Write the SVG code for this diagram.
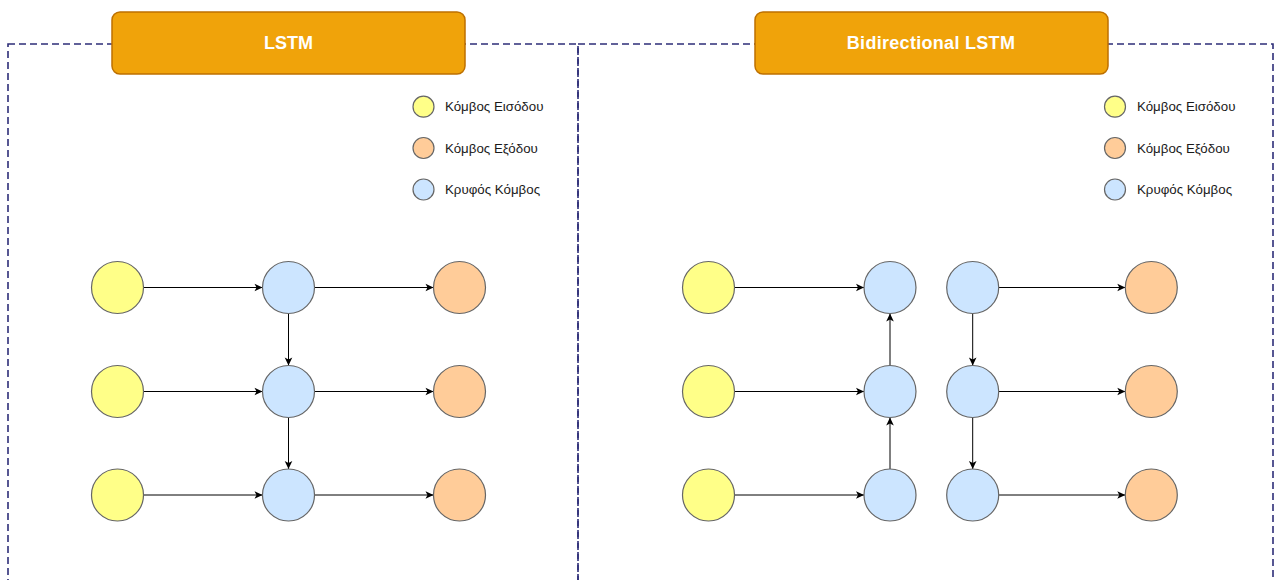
<svg xmlns="http://www.w3.org/2000/svg" width="1274" height="580" viewBox="0 0 1274 580">
<style>
.frame{fill:none;stroke:#2E2E78;stroke-width:1.6;stroke-dasharray:7 4}
.title{fill:#F0A30A;stroke:#BD7000;stroke-width:1.5}
.ttxt{font-family:"Liberation Sans",Arial,sans-serif;font-size:18px;font-weight:bold;fill:#FFFFFF;text-anchor:middle}
.ltxt{font-family:"Liberation Sans",Arial,sans-serif;font-size:13.3px;fill:#1A1A1A}
.in{fill:#FFFF88;stroke:#666666;stroke-width:1.2}
.out{fill:#FFCC99;stroke:#666666;stroke-width:1.2}
.hid{fill:#CCE5FF;stroke:#666666;stroke-width:1.2}
.edge{fill:none;stroke:#000000;stroke-width:1}
</style>
<defs>
<marker id="arr" markerUnits="userSpaceOnUse" markerWidth="10" markerHeight="10" viewBox="0 0 10 10" refX="9" refY="5" orient="auto">
<path d="M1,1.2 L9,5 L1,8.8 L3,5 Z" fill="#000000"/>
</marker>
</defs>

<g id="frames">
<rect class="frame" x="8" y="44" width="570" height="570"/>
<rect class="frame" x="578" y="44" width="695" height="570"/>
</g>

<g id="title-lstm">
<rect class="title" x="112" y="12" width="353" height="62" rx="8"/>
<text class="ttxt" x="288.5" y="48.5">LSTM</text>
</g>
<g id="title-bilstm">
<rect class="title" x="755" y="12" width="353" height="62" rx="8"/>
<text class="ttxt" x="931" y="48.5" style="letter-spacing:0.3px">Bidirectional LSTM</text>
</g>

<g id="legend-left">
<circle class="in" cx="423.5" cy="106.7" r="10.5"/>
<text class="ltxt" x="445" y="111">Κόμβος Εισόδου</text>
<circle class="out" cx="423.5" cy="148" r="10.5"/>
<text class="ltxt" x="445" y="152.5">Κόμβος Εξόδου</text>
<circle class="hid" cx="423.5" cy="189.5" r="10.5"/>
<text class="ltxt" x="445" y="194">Κρυφός Κόμβος</text>
</g>
<g id="legend-right">
<circle class="in" cx="1115" cy="106.7" r="10.5"/>
<text class="ltxt" x="1137" y="111">Κόμβος Εισόδου</text>
<circle class="out" cx="1115" cy="148" r="10.5"/>
<text class="ltxt" x="1137" y="152.5">Κόμβος Εξόδου</text>
<circle class="hid" cx="1115" cy="189.5" r="10.5"/>
<text class="ltxt" x="1137" y="194">Κρυφός Κόμβος</text>
</g>

<g id="connectors">
<line class="edge" x1="143.5" y1="287.5" x2="262.5" y2="287.5" marker-end="url(#arr)"/>
<line class="edge" x1="143.5" y1="391.5" x2="262.5" y2="391.5" marker-end="url(#arr)"/>
<line class="edge" x1="143.5" y1="495" x2="262.5" y2="495" marker-end="url(#arr)"/>
<line class="edge" x1="314.5" y1="287.5" x2="433.5" y2="287.5" marker-end="url(#arr)"/>
<line class="edge" x1="314.5" y1="391.5" x2="433.5" y2="391.5" marker-end="url(#arr)"/>
<line class="edge" x1="314.5" y1="495" x2="433.5" y2="495" marker-end="url(#arr)"/>
<line class="edge" x1="288.5" y1="313.5" x2="288.5" y2="365.5" marker-end="url(#arr)"/>
<line class="edge" x1="288.5" y1="417.5" x2="288.5" y2="469" marker-end="url(#arr)"/>

<line class="edge" x1="734.5" y1="287.5" x2="864" y2="287.5" marker-end="url(#arr)"/>
<line class="edge" x1="734.5" y1="391.5" x2="864" y2="391.5" marker-end="url(#arr)"/>
<line class="edge" x1="734.5" y1="495" x2="864" y2="495" marker-end="url(#arr)"/>
<line class="edge" x1="890" y1="469" x2="890" y2="417.5" marker-end="url(#arr)"/>
<line class="edge" x1="890" y1="365.5" x2="890" y2="313.5" marker-end="url(#arr)"/>
<line class="edge" x1="998.7" y1="287.5" x2="1125.3" y2="287.5" marker-end="url(#arr)"/>
<line class="edge" x1="998.7" y1="391.5" x2="1125.3" y2="391.5" marker-end="url(#arr)"/>
<line class="edge" x1="998.7" y1="495" x2="1125.3" y2="495" marker-end="url(#arr)"/>
<line class="edge" x1="972.7" y1="313.5" x2="972.7" y2="365.5" marker-end="url(#arr)"/>
<line class="edge" x1="972.7" y1="417.5" x2="972.7" y2="469" marker-end="url(#arr)"/>
</g>

<g id="l-in1"><circle class="in" cx="117.5" cy="287.5" r="26"/></g>
<g id="l-in2"><circle class="in" cx="117.5" cy="391.5" r="26"/></g>
<g id="l-in3"><circle class="in" cx="117.5" cy="495" r="26"/></g>
<g id="l-h1"><circle class="hid" cx="288.5" cy="287.5" r="26"/></g>
<g id="l-h2"><circle class="hid" cx="288.5" cy="391.5" r="26"/></g>
<g id="l-h3"><circle class="hid" cx="288.5" cy="495" r="26"/></g>
<g id="l-out1"><circle class="out" cx="459.5" cy="287.5" r="26"/></g>
<g id="l-out2"><circle class="out" cx="459.5" cy="391.5" r="26"/></g>
<g id="l-out3"><circle class="out" cx="459.5" cy="495" r="26"/></g>

<g id="r-in1"><circle class="in" cx="708.5" cy="287.5" r="26"/></g>
<g id="r-in2"><circle class="in" cx="708.5" cy="391.5" r="26"/></g>
<g id="r-in3"><circle class="in" cx="708.5" cy="495" r="26"/></g>
<g id="r-b1"><circle class="hid" cx="890" cy="287.5" r="26"/></g>
<g id="r-b2"><circle class="hid" cx="890" cy="391.5" r="26"/></g>
<g id="r-b3"><circle class="hid" cx="890" cy="495" r="26"/></g>
<g id="r-f1"><circle class="hid" cx="972.7" cy="287.5" r="26"/></g>
<g id="r-f2"><circle class="hid" cx="972.7" cy="391.5" r="26"/></g>
<g id="r-f3"><circle class="hid" cx="972.7" cy="495" r="26"/></g>
<g id="r-out1"><circle class="out" cx="1151.3" cy="287.5" r="26"/></g>
<g id="r-out2"><circle class="out" cx="1151.3" cy="391.5" r="26"/></g>
<g id="r-out3"><circle class="out" cx="1151.3" cy="495" r="26"/></g>
</svg>
